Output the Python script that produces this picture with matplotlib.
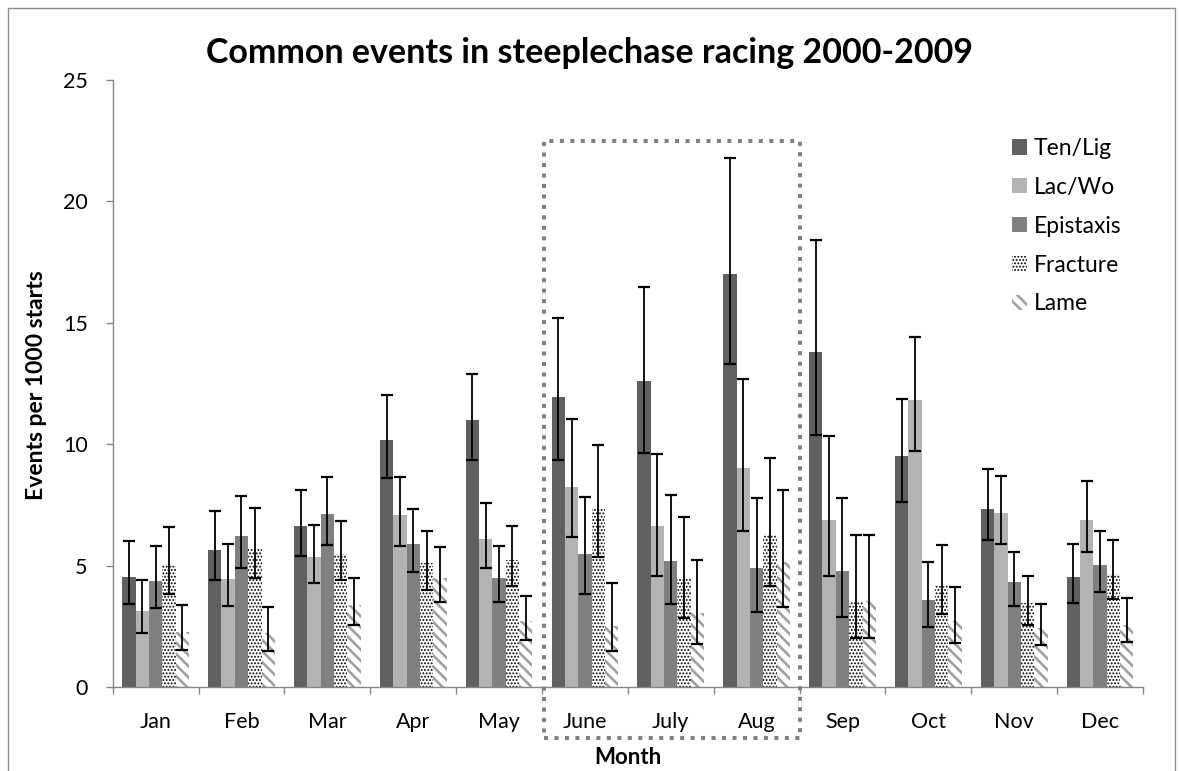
import numpy as np
import matplotlib
matplotlib.use('Agg')
from matplotlib import pyplot as plt
from matplotlib.patches import Rectangle

plt.rcParams['font.family'] = ['Lato', 'DejaVu Sans']

#%% data: events per 1000 starts, with lower/upper limits of the error bars
months = ['Jan', 'Feb', 'Mar', 'Apr', 'May', 'June', 'July', 'Aug', 'Sep', 'Oct', 'Nov', 'Dec']
series = ['Ten/Lig', 'Lac/Wo', 'Epistaxis', 'Fracture', 'Lame']

ten_mean = [4.54, 5.64, 6.62, 10.17, 10.98, 11.96, 12.62, 17.01, 13.80, 9.52, 7.35, 4.53]
ten_lo = [3.43, 4.39, 5.41, 8.62, 9.35, 9.36, 9.65, 13.30, 10.36, 7.64, 6.07, 3.48]
ten_hi = [6.03, 7.25, 8.10, 12.03, 12.89, 15.21, 16.49, 21.77, 18.40, 11.88, 8.96, 5.87]

lac_mean = [3.13, 4.43, 5.34, 7.08, 6.08, 8.25, 6.63, 9.02, 6.89, 11.84, 7.16, 6.87]
lac_lo = [2.24, 3.35, 4.28, 5.82, 4.90, 6.17, 4.58, 6.44, 4.57, 9.71, 5.87, 5.54]
lac_hi = [4.39, 5.89, 6.69, 8.65, 7.56, 11.04, 9.61, 12.68, 10.32, 14.40, 8.71, 8.49]

epi_mean = [4.37, 6.20, 7.11, 5.90, 4.50, 5.47, 5.21, 4.89, 4.79, 3.59, 4.31, 5.02]
epi_lo = [3.25, 4.89, 5.86, 4.75, 3.50, 3.81, 3.43, 3.08, 2.89, 2.49, 3.34, 3.90]
epi_hi = [5.82, 7.87, 8.64, 7.35, 5.82, 7.83, 7.89, 7.77, 7.77, 5.14, 5.58, 6.44]

frac_mean = [5.02, 5.74, 5.49, 5.09, 5.23, 7.32, 4.46, 6.24, 3.56, 4.16, 3.44, 4.67]
frac_lo = [3.84, 4.48, 4.39, 4.01, 4.17, 5.37, 2.86, 4.16, 2.02, 3.01, 2.57, 3.64]
frac_hi = [6.58, 7.36, 6.84, 6.44, 6.64, 9.98, 7.02, 9.44, 6.25, 5.83, 4.57, 6.07]

lame_mean = [2.27, 2.21, 3.36, 4.50, 2.70, 2.50, 3.04, 5.15, 3.56, 2.72, 2.43, 2.57]
lame_lo = [1.54, 1.50, 2.54, 3.51, 1.95, 1.50, 1.78, 3.29, 2.02, 1.81, 1.73, 1.85]
lame_hi = [3.38, 3.29, 4.48, 5.78, 3.73, 4.28, 5.25, 8.10, 6.25, 4.12, 3.40, 3.66]

means = [ten_mean, lac_mean, epi_mean, frac_mean, lame_mean]
lows = [ten_lo, lac_lo, epi_lo, frac_lo, lame_lo]
highs = [ten_hi, lac_hi, epi_hi, frac_hi, lame_hi]

# fill, hatch, hatch colour, hatch line width
styles = [
    dict(facecolor='#606060', hatch=None, edgecolor='#606060', hlw=1.0),
    dict(facecolor='#b3b3b3', hatch=None, edgecolor='#b3b3b3', hlw=1.0),
    dict(facecolor='#808080', hatch=None, edgecolor='#808080', hlw=1.0),
    dict(facecolor='white', hatch='.....', edgecolor='black', hlw=0.9),
    dict(facecolor='white', hatch='\\\\\\', edgecolor='#a0a0a0', hlw=1.9),
]


def set_hatch_lw(artist, lw):
    # newer matplotlib keeps the hatch width on the patch, older reads rcParams at draw time
    if hasattr(artist, 'set_hatch_linewidth'):
        artist.set_hatch_linewidth(lw)
    else:
        draw = artist.draw
        def wrapped(renderer):
            with plt.rc_context({'hatch.linewidth': lw}):
                draw(renderer)
        artist.draw = wrapped


#%% set up figure (positions in pixels)
W, H = 1179, 771
fig = plt.figure(figsize=(W/100, H/100), dpi=100)

def fx(px):
    return px/W

def fy(py):
    return 1 - py/H

ax_left, ax_right, ax_top, ax_bot = 112.7, 1143, 80, 687
ax = fig.add_axes([fx(ax_left), fy(ax_bot), fx(ax_right)-fx(ax_left), fy(ax_top)-fy(ax_bot)])

axis_grey = '#868686'

x = np.arange(len(months))
width = 0.1554

handles = []
for k in range(len(series)):
    st = styles[k]
    offset = (k - 2)*width
    with plt.rc_context({'hatch.linewidth': st['hlw']}):
        bars = ax.bar(x + offset, means[k], width, color=st['facecolor'], edgecolor=st['edgecolor'],
                      hatch=st['hatch'], linewidth=0, label=series[k], zorder=2)
    for b in bars:
        set_hatch_lw(b, st['hlw'])
    handles.append(bars)
    m = np.array(means[k])
    yerr = [m - np.array(lows[k]), np.array(highs[k]) - m]
    ax.errorbar(x + offset, m, yerr=yerr, fmt='none', ecolor='black', elinewidth=1.3,
                capsize=4.5, capthick=1.6, zorder=3)

ax.set_xlim(-0.5, len(months) - 0.5)
ax.set_ylim(0, 25)
ax.set_yticks(np.arange(0, 26, 5))
ax.set_xticks(x)
ax.set_xticklabels(months)
ax.set_xticks(np.arange(-0.5, len(months), 1), minor=True)

ax.tick_params(axis='x', which='major', length=0, pad=18, labelsize=15.5)
ax.tick_params(axis='x', which='minor', length=5, width=1, color=axis_grey)
ax.tick_params(axis='y', length=5, width=1, color=axis_grey, pad=13, labelsize=15.5)

for side in ['top', 'right']:
    ax.spines[side].set_visible(False)
for side in ['left', 'bottom']:
    ax.spines[side].set_color(axis_grey)
    ax.spines[side].set_linewidth(1.0)

leg = ax.legend(handles=handles, loc='upper left', bbox_to_anchor=(fx(1012), fy(138)),
                bbox_transform=fig.transFigure, frameon=False, fontsize=16.5,
                handlelength=0.65, handleheight=0.65, handletextpad=0.3, labelspacing=0.78,
                borderpad=0, borderaxespad=0)
for h, st in zip(leg.legend_handles, styles):
    set_hatch_lw(h, st['hlw'])

#%% titles
fig.text(fx(589.5), fy(63), 'Common events in steeplechase racing 2000-2009', ha='center', va='baseline',
         fontsize=24.5, fontweight='bold')
fig.text(fx(43), fy(385), 'Events per 1000 starts', rotation=90, rotation_mode='anchor',
         ha='center', va='baseline', fontsize=16.5, fontweight='bold')
fig.text(fx(628), fy(764), 'Month', ha='center', va='baseline', fontsize=16, fontweight='bold')

#%% summer box and chart border
fig.add_artist(Rectangle((fx(544), fy(738)), fx(800)-fx(544), fy(141)-fy(738), transform=fig.transFigure,
                         fill=False, edgecolor='#808080', linewidth=2.9, linestyle=(0, (1, 1.6)),
                         capstyle='butt', joinstyle='miter', zorder=10))
fig.add_artist(Rectangle((fx(8), -0.05), fx(1175)-fx(8), fy(8)+0.05, transform=fig.transFigure,
                         fill=False, edgecolor='#8c8c8c', linewidth=1.0))

fig.savefig('out.png', dpi=100)
